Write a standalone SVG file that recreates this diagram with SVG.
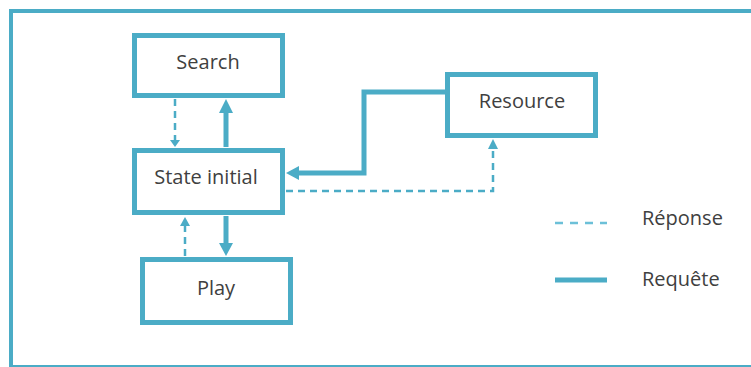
<svg xmlns="http://www.w3.org/2000/svg" width="751" height="367" viewBox="0 0 751 367">
<style>
.box{fill:#fff;stroke:#4bacc6;stroke-width:5}
.lbl{font-family:"Open Sans","Noto Sans",sans-serif;font-size:20px;fill:#404040;text-anchor:middle}
.leg{font-family:"Open Sans","Noto Sans",sans-serif;font-size:20px;fill:#404040}
.req{fill:none;stroke:#4bacc6;stroke-width:5}
.rep{fill:none;stroke:#4bacc6;stroke-width:2.5;stroke-dasharray:7 5}
.head{fill:#4bacc6}
</style>
<rect width="751" height="367" fill="#fff"/>
<rect x="11" y="11" width="760" height="356" fill="none" stroke="#4bacc6" stroke-width="4"/>
<g id="connectors">
<line class="rep" x1="175" y1="99" x2="175" y2="140"/>
<polygon class="head" points="170,140 180,140 175,147"/>
<line class="req" x1="226" y1="147" x2="226" y2="112"/>
<polygon class="head" points="219,113 233,113 226,99"/>
<line class="req" x1="226" y1="216" x2="226" y2="244"/>
<polygon class="head" points="219,243 233,243 226,256"/>
<line class="rep" x1="185" y1="256" x2="185" y2="226"/>
<polygon class="head" points="180,226 190,226 185,217"/>
<polyline class="req" points="445,92 364,92 364,173 298,173"/>
<polygon class="head" points="299,166 299,180 286,173"/>
<polyline class="rep" points="286,191 493,191 493,149"/>
<polygon class="head" points="488,149 498,149 493,139"/>
</g>
<g id="search"><rect class="box" x="134.5" y="35.5" width="148" height="60"/><text class="lbl" x="208" y="69">Search</text></g>
<g id="state-initial"><rect class="box" x="134.5" y="150.5" width="148" height="62"/><text class="lbl" x="206" y="184">State initial</text></g>
<g id="play"><rect class="box" x="142.5" y="259.5" width="148" height="63"/><text class="lbl" x="216" y="295">Play</text></g>
<g id="resource"><rect class="box" x="447.5" y="74.5" width="148" height="61"/><text class="lbl" x="522" y="108">Resource</text></g>
<g id="legend">
<line class="rep" x1="555" y1="223" x2="607" y2="223" style="stroke:#6cc0d8;stroke-dasharray:8 7"/>
<text class="leg" x="642" y="225">Réponse</text>
<line class="req" x1="555" y1="280" x2="607" y2="280"/>
<text class="leg" x="642" y="286">Requête</text>
</g>
</svg>
